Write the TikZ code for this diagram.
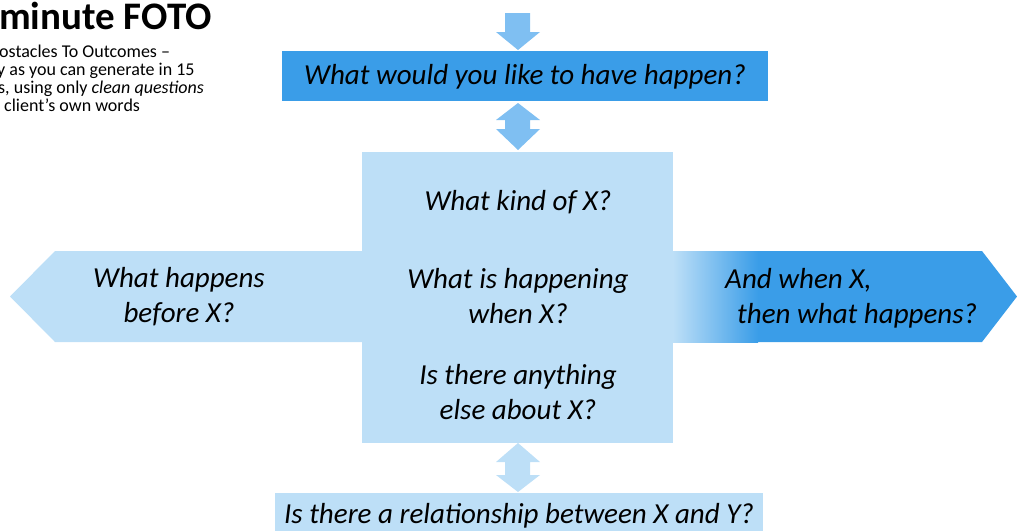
\documentclass[tikz,border=0pt]{standalone}
\usepackage{fontspec}
\setmainfont{Carlito}
\usetikzlibrary{positioning}
\definecolor{deepblue}{HTML}{3A9DE8}
\definecolor{paleblue}{HTML}{BDDFF7}
\definecolor{midblue}{HTML}{7FBFF2}
\tikzset{
  q/.style={font=\fontsize{29}{35}\selectfont\itshape, text=black, align=center, inner sep=0pt},
  note/.style={font=\fontsize{18}{18}\selectfont, text=black, anchor=base west, inner sep=0pt},
}
\begin{document}
\begin{tikzpicture}[x=1pt,y=-1pt]
\useasboundingbox (0,0) rectangle (1017,531);

% left arrow (before)
\fill[paleblue] (10,296.5) -- (55,251) -- (362,251) -- (362,342) -- (55,342) -- cycle;
% right arrow (after), shading into the dark blue
\fill[deepblue] (673,251) -- (982,251) -- (1017,296.5) -- (982,342) -- (673,342) -- cycle;
\shade[left color=paleblue, right color=deepblue] (673,251) rectangle (758,342);

% central box
\fill[paleblue] (362,152) rectangle (673,443);

% top box and bottom box
\fill[deepblue] (282,51) rectangle (768,101);
\fill[paleblue] (275,493) rectangle (763,531);

% arrow into the top box
\fill[midblue] (505,13) -- (530,13) -- (530,32) -- (540,32) -- (518,50) -- (496,32) -- (505,32) -- cycle;
% double arrow between top box and central box
\fill[midblue] (518,103) -- (540,120) -- (530,120) -- (530,129) -- (540,129) -- (518,150) -- (496,129) -- (505,129) -- (505,120) -- (496,120) -- cycle;
% double arrow between central box and bottom box
\fill[paleblue] (518,443) -- (540,462) -- (530,462) -- (530,475) -- (540,475) -- (518,492) -- (496,475) -- (505,475) -- (505,462) -- (496,462) -- cycle;

% questions
\node[q] (want) at (525,77) {What would you like to have happen?};
\node[q] (kind) at (518,202) {What kind of X?};
\node[q] (during) at (518,296.5) {What is happening\\when X?};
\node[q] (else) at (518,392.5) {Is there anything\\else about X?};
\node[q] (before) at (179,296.5) {What happens\\before X?};
\node[q, anchor=base west] (after1) at (725,288) {And when X,};
\node[q, anchor=base west] (after2) at (737,323) {then what happens?};
\node[q] (relation) at (519,516) {Is there a relationship between X and Y?};

% title block
\node[font=\fontsize{39}{42}\selectfont\bfseries, anchor=base west, inner sep=0pt] (title) at (-1,29) {minute FOTO};
\node[note] (n1) at (-1,57) {ostacles To Outcomes –};
\node[note] (n2) at (-3,75) {y as you can generate in 15};
\node[note] (n3) at (-2,93) {s, using only \textit{clean questions}};
\node[note] (n4) at (4,111) {client’s own words};
\end{tikzpicture}
\end{document}
